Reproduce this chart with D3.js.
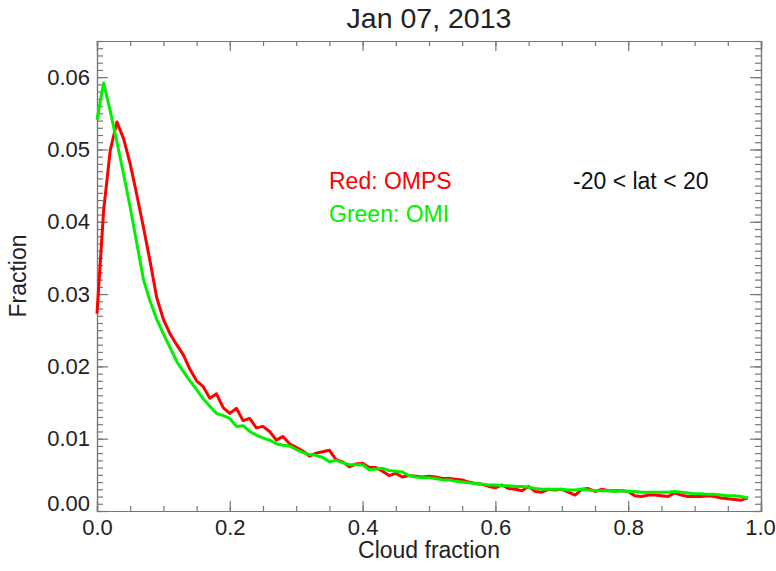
<!DOCTYPE html>
<html>
<head>
<meta charset="utf-8">
<script src="https://cdn.jsdelivr.net/npm/d3@7"></script>
<style>
  body { margin: 0; background: #fff; }
  svg { font-family: "Liberation Sans", Arial, sans-serif; }
  .axis path, .axis line { stroke: #777; stroke-width: 1.2; }
  .axis text { fill: #222; font-size: 22px; font-family: "Liberation Sans", Arial, sans-serif; }
</style>
</head>
<body>
<script>
// cloud fraction bins (0.00 .. 0.98, step 0.01)
var cloud_bins = d3.range(99).map(function (i) { return +(i * 0.01).toFixed(2); });

// Red: OMPS
var omps = [
  0.0273, 0.0416, 0.0499, 0.0538, 0.0515, 0.0480, 0.0437, 0.0392, 0.0345, 0.0295,
  0.0265, 0.0245, 0.0230, 0.0216, 0.0196, 0.0180, 0.0172, 0.0156, 0.0162, 0.0143,
  0.0135, 0.0142, 0.0125, 0.0128, 0.0115, 0.0117, 0.0110, 0.0098, 0.0103, 0.0093,
  0.0088, 0.0083, 0.0076, 0.0080, 0.0082, 0.0084, 0.0071, 0.0068, 0.0061, 0.0065,
  0.0066, 0.0060, 0.0060, 0.0055, 0.0049, 0.0052, 0.0047, 0.0049, 0.0048, 0.0047,
  0.0048, 0.0047, 0.0045, 0.0045, 0.0044, 0.0043, 0.0040, 0.0038, 0.0037, 0.0034,
  0.0032, 0.0036, 0.0031, 0.0030, 0.0028, 0.0034, 0.0027, 0.0026, 0.0030, 0.0029,
  0.0030, 0.0026, 0.0022, 0.0030, 0.0031, 0.0027, 0.0030, 0.0028, 0.0028, 0.0028,
  0.0027, 0.0021, 0.0020, 0.0022, 0.0022, 0.0021, 0.0020, 0.0025, 0.0022, 0.0020,
  0.0020, 0.0020, 0.0021, 0.0020, 0.0018, 0.0017, 0.0016, 0.0015, 0.0018
];

// Green: OMI
var omi = [
  0.0541, 0.0592, 0.0553, 0.0510, 0.0466, 0.0420, 0.0370, 0.0320, 0.0290, 0.0265,
  0.0245, 0.0226, 0.0207, 0.0193, 0.0180, 0.0168, 0.0155, 0.0145, 0.0135, 0.0132,
  0.0128, 0.0117, 0.0118, 0.0110, 0.0105, 0.0101, 0.0098, 0.0093, 0.0091, 0.0090,
  0.0085, 0.0081, 0.0078, 0.0077, 0.0074, 0.0068, 0.0070, 0.0067, 0.0064, 0.0064,
  0.0064, 0.0057, 0.0058, 0.0059, 0.0056, 0.0055, 0.0054, 0.0049, 0.0047, 0.0046,
  0.0046, 0.0045, 0.0043, 0.0043, 0.0041, 0.0040, 0.0039, 0.0038, 0.0037, 0.0036,
  0.0036, 0.0035, 0.0035, 0.0034, 0.0034, 0.0033, 0.0031, 0.0030, 0.0030, 0.0030,
  0.0030, 0.0029, 0.0029, 0.0030, 0.0029, 0.0028, 0.0028, 0.0028, 0.0027, 0.0028,
  0.0027, 0.0027, 0.0026, 0.0026, 0.0026, 0.0026, 0.0026, 0.0027, 0.0026, 0.0025,
  0.0024, 0.0024, 0.0023, 0.0023, 0.0022, 0.0021, 0.0021, 0.0020, 0.0018
];

var x_ticks = [0.0, 0.2, 0.4, 0.6, 0.8, 1.0];
var y_ticks = [0.00, 0.01, 0.02, 0.03, 0.04, 0.05, 0.06];

var width = 776, height = 571;
var plot_left = 97, plot_right = 761, plot_top = 41, plot_bottom = 511;

var svg = d3.select("body").append("svg")
    .attr("width", width)
    .attr("height", height);

var x = d3.scaleLinear().domain([0, 1]).range([plot_left, plot_right]);
var y = d3.scaleLinear().domain([0, 0.065]).range([plot_bottom, plot_top]);

var x_minor = d3.range(0, 1.0001, 0.05);
var y_minor = d3.range(0, 0.0651, 0.001);

// bottom axis, ticks point inward
svg.append("g").attr("class", "axis")
    .attr("transform", "translate(0," + plot_bottom + ")")
    .call(d3.axisBottom(x).tickValues(x_minor).tickSize(-5).tickFormat(""));
svg.append("g").attr("class", "axis")
    .attr("transform", "translate(0," + plot_bottom + ")")
    .call(d3.axisBottom(x).tickValues(x_ticks).tickSize(-10).tickPadding(8).tickFormat(d3.format(".1f")))
    .selectAll("text").filter(function (d) { return d === 1; }).attr("x", -1);

// top axis
svg.append("g").attr("class", "axis")
    .attr("transform", "translate(0," + plot_top + ")")
    .call(d3.axisTop(x).tickValues(x_minor).tickSize(-5).tickFormat(""));
svg.append("g").attr("class", "axis")
    .attr("transform", "translate(0," + plot_top + ")")
    .call(d3.axisTop(x).tickValues(x_ticks).tickSize(-10).tickFormat(""));

// left axis
svg.append("g").attr("class", "axis")
    .attr("transform", "translate(" + plot_left + ",0)")
    .call(d3.axisLeft(y).tickValues(y_minor).tickSize(-6).tickFormat(""));
var yl = svg.append("g").attr("class", "axis")
    .attr("transform", "translate(" + plot_left + ",0)")
    .call(d3.axisLeft(y).tickValues(y_ticks).tickSize(-11).tickPadding(7).tickFormat(d3.format(".2f")));
yl.selectAll("text").filter(function (d) { return d === 0; }).attr("y", -8);

// right axis
svg.append("g").attr("class", "axis")
    .attr("transform", "translate(" + plot_right + ",0)")
    .call(d3.axisRight(y).tickValues(y_minor).tickSize(-6).tickFormat(""));
svg.append("g").attr("class", "axis")
    .attr("transform", "translate(" + plot_right + ",0)")
    .call(d3.axisRight(y).tickValues(y_ticks).tickSize(-11).tickFormat(""));

// curves
var line = d3.line()
    .x(function (d) { return x(d[0]); })
    .y(function (d) { return y(d[1]); });

svg.append("path")
    .datum(cloud_bins.map(function (c, i) { return [c, omps[i]]; }))
    .attr("d", line)
    .attr("fill", "none")
    .attr("stroke", "#ff0000")
    .attr("stroke-width", 3)
    .attr("stroke-linejoin", "round");

svg.append("path")
    .datum(cloud_bins.map(function (c, i) { return [c, omi[i]]; }))
    .attr("d", line)
    .attr("fill", "none")
    .attr("stroke", "#00f000")
    .attr("stroke-width", 3)
    .attr("stroke-linejoin", "round");

// texts
svg.append("text")
    .attr("x", (plot_left + plot_right) / 2).attr("y", 28)
    .attr("text-anchor", "middle")
    .attr("font-size", 28.5).attr("fill", "#222")
    .text("Jan 07, 2013");

svg.append("text")
    .attr("x", (plot_left + plot_right) / 2).attr("y", 558)
    .attr("text-anchor", "middle")
    .attr("font-size", 23).attr("fill", "#222")
    .text("Cloud fraction");

svg.append("text")
    .attr("transform", "translate(26," + ((plot_top + plot_bottom) / 2) + ") rotate(-90)")
    .attr("text-anchor", "middle")
    .attr("font-size", 23).attr("fill", "#222")
    .text("Fraction");

svg.append("text")
    .attr("x", 329).attr("y", 189)
    .attr("font-size", 23).attr("fill", "#ff0000")
    .text("Red: OMPS");

svg.append("text")
    .attr("x", 329).attr("y", 222)
    .attr("font-size", 23).attr("fill", "#00f000")
    .text("Green: OMI");

svg.append("text")
    .attr("x", 573).attr("y", 189)
    .attr("font-size", 23).attr("fill", "#111")
    .text("-20 < lat < 20");
</script>
</body>
</html>
